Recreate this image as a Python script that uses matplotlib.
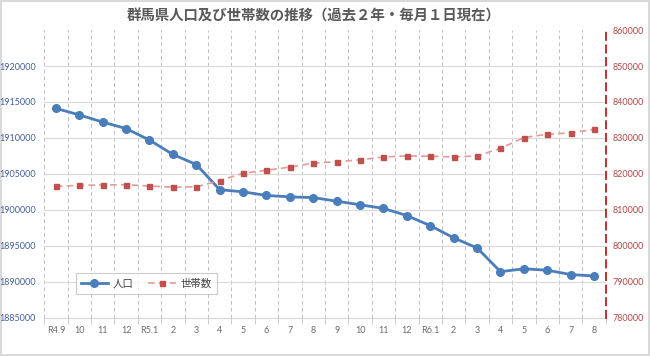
import numpy as np
import matplotlib
matplotlib.use("Agg")
import matplotlib.pyplot as plt
from matplotlib.ticker import FixedLocator

plt.rcParams['font.family'] = ['Noto Sans CJK JP', 'DejaVu Sans']

# 月ラベル
labels = ['R4.9', '10', '11', '12', 'R5.1', '2', '3', '4', '5', '6', '7', '8',
          '9', '10', '11', '12', 'R6.1', '2', '3', '4', '5', '6', '7', '8']
# 人口（左軸）
population = [1914100, 1913200, 1912200, 1911300, 1909700, 1907700, 1906300, 1902800,
              1902500, 1902000, 1901800, 1901700, 1901200, 1900700, 1900200, 1899200,
              1897800, 1896100, 1894700, 1891400, 1891800, 1891600, 1891000, 1890800]
# 世帯数（右軸）
households = [816500, 816800, 816900, 817000, 816600, 816300, 816400, 818100,
              820200, 821000, 821900, 823000, 823400, 823900, 824700, 825000,
              824900, 824700, 825000, 827100, 830100, 831000, 831400, 832400]

left_ticks = [1885000, 1890000, 1895000, 1900000, 1905000, 1910000, 1915000, 1920000]
right_ticks = [780000, 790000, 800000, 810000, 820000, 830000, 840000, 850000, 860000]

x = np.arange(len(labels))

fig = plt.figure(figsize=(6.5, 3.56), dpi=100)
fig.patch.set_edgecolor('#d9d9d9')
fig.patch.set_linewidth(1.5)
ax = fig.add_axes([0.068, 0.1076, 0.864, 0.808])
ax2 = ax.twinx()

ax.set_xlim(-0.5, len(labels) - 0.5)
ax.set_ylim(1885000, 1925000)
ax2.set_ylim(780000, 860000)

# グリッド
ax.set_yticks(left_ticks)
ax.set_yticklabels([str(v) for v in left_ticks], family='Lato')
ax.yaxis.grid(True, color='#d9d9d9', linewidth=0.8)
ax.xaxis.set_minor_locator(FixedLocator(np.arange(-0.5, len(labels), 1.0)))
ax.xaxis.grid(True, which='minor', color='#bfbfbf', linestyle=(0, (4, 3)), linewidth=0.7)
ax.set_xticks(x)
ax.set_xticklabels(labels, family='Lato')
ax.tick_params(axis='x', which='major', length=0, labelsize=6.5, labelcolor='#6b6b6b', pad=6)
ax.tick_params(axis='x', which='minor', length=4, color='#bfbfbf')
ax.tick_params(axis='y', length=0, labelsize=6.5, labelcolor='#44609a', pad=6)
ax.set_axisbelow(True)

for s in ['top', 'left', 'right']:
    ax.spines[s].set_visible(False)
ax.spines['bottom'].set_color('#d9d9d9')

ax2.set_yticks(right_ticks)
ax2.set_yticklabels([str(v) for v in right_ticks], family='Lato')
ax2.tick_params(axis='y', length=0, labelsize=6.5, labelcolor='#b04a48', pad=5)
for s in ['top', 'left', 'bottom']:
    ax2.spines[s].set_visible(False)
ax2.spines['right'].set_color('#b22222')
ax2.spines['right'].set_linestyle((0, (4, 3)))
ax2.spines['right'].set_linewidth(1.3)

l1, = ax.plot(x, population, '-o', color='#4a7ebb', linewidth=2.0,
              markersize=5.5, label='人口', zorder=3)
l2, = ax2.plot(x, households, color='#e39a98', linestyle=(0, (4, 2.5)), linewidth=1.2,
               marker='s', markersize=3.6, markerfacecolor='#c0504d',
               markeredgecolor='#c0504d', label='世帯数', zorder=3)

leg = ax2.legend(handles=[l1, l2], loc='lower left', bbox_to_anchor=(0.056, 0.082),
                 ncol=2, fontsize=7.5, frameon=True, fancybox=False, borderaxespad=0,
                 handlelength=2.6, handletextpad=0.5, columnspacing=1.4, borderpad=0.5)
leg.get_frame().set_edgecolor('#bfbfbf')
leg.get_frame().set_linewidth(0.8)
for t in leg.get_texts():
    t.set_color('#404040')

fig.text(0.483, 0.953, '群馬県人口及び世帯数の推移（過去２年・毎月１日現在）',
         ha='center', va='center', fontsize=10.4, fontweight='bold', color='#595959')

fig.savefig('out.png', dpi=100)
